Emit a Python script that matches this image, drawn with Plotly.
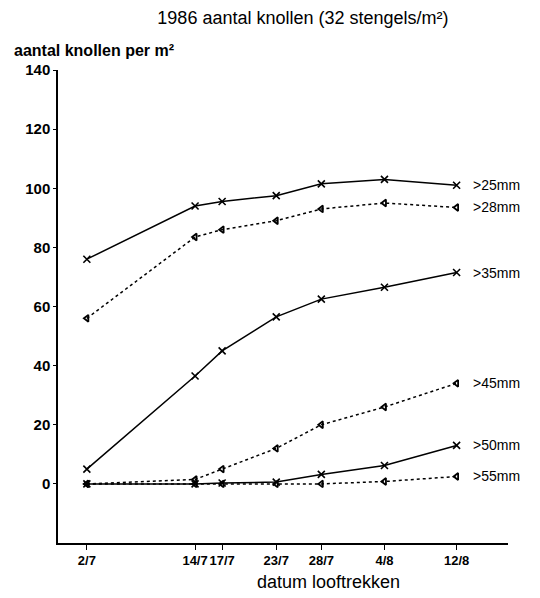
import plotly.graph_objects as go

# x positions as day numbers (July days; August = 31 + day)
days = [2, 14, 17, 23, 28, 35, 43]
tick_labels = ["2/7", "14/7", "17/7", "23/7", "28/7", "4/8", "12/8"]

series_names = [">25mm", ">28mm", ">35mm", ">45mm", ">50mm", ">55mm"]
v25 = [76, 94, 95.5, 97.5, 101.5, 103, 101]
v28 = [56, 83.5, 86, 89, 93, 95, 93.5]
v35 = [5, 36.5, 45, 56.5, 62.5, 66.5, 71.5]
v45 = [0, 1.5, 5, 12, 20, 26, 34]
v50 = [0, 0, 0.3, 0.6, 3.2, 6.2, 13]
v55 = [0, 0, 0, 0, 0, 0.8, 2.5]
series_values = [v25, v28, v35, v45, v50, v55]
series_solid = [True, False, True, False, True, False]

FONT = "Liberation Sans, Arial, Helvetica, sans-serif"

fig = go.Figure()
for name, vals, solid in zip(series_names, series_values, series_solid):
    if solid:
        marker = dict(symbol="x-thin", size=7, color="black",
                      line=dict(width=1.6, color="black"))
        line = dict(color="black", width=1.5)
    else:
        marker = dict(symbol="triangle-left-open", size=6, color="black",
                      line=dict(width=1.8, color="black"))
        line = dict(color="black", width=1.5, dash="dot")
    fig.add_trace(go.Scatter(x=days, y=vals, mode="lines+markers", name=name,
                             line=line, marker=marker, showlegend=False))
    fig.add_annotation(x=days[-1], y=vals[-1], text=name, showarrow=False,
                       xanchor="left", yanchor="middle", xshift=14,
                       font=dict(family=FONT, size=14, color="black"))

fig.update_layout(
    width=540, height=598,
    margin=dict(l=58, r=32, t=70, b=55),
    paper_bgcolor="white", plot_bgcolor="white",
    font=dict(family=FONT, color="black"),
    title=dict(text="1986 aantal knollen (32 stengels/m²)", x=0.561, xanchor="center",
               y=0.971, yanchor="middle", font=dict(family=FONT, size=18, color="black")),
    xaxis=dict(range=[-1.2, 48.7], tickvals=days, ticktext=tick_labels,
               showgrid=False, zeroline=False, showline=True, linecolor="black",
               linewidth=1.5, ticks="outside", ticklen=5, tickcolor="black",
               automargin=False, tickangle=0,
               tickfont=dict(family=FONT, size=13, color="black", weight="bold")),
    yaxis=dict(range=[-20, 140], tickvals=[0, 20, 40, 60, 80, 100, 120, 140],
               showgrid=False, zeroline=False, showline=True, linecolor="black",
               linewidth=1.5, ticks="outside", ticklen=3, tickcolor="black",
               automargin=False,
               tickfont=dict(family=FONT, size=15, color="black", weight="bold")),
)
fig.add_annotation(xref="paper", yref="paper", x=-0.102, y=1.0, yshift=20,
                   xanchor="left", yanchor="middle", showarrow=False,
                   text="aantal knollen per m²",
                   font=dict(family=FONT, size=16, color="black", weight="bold"))
fig.add_annotation(xref="paper", yref="paper", x=0.6, y=-0.0825,
                   xanchor="center", yanchor="middle", showarrow=False,
                   text="datum looftrekken",
                   font=dict(family=FONT, size=18, color="black"))

fig.write_html("out.html")
